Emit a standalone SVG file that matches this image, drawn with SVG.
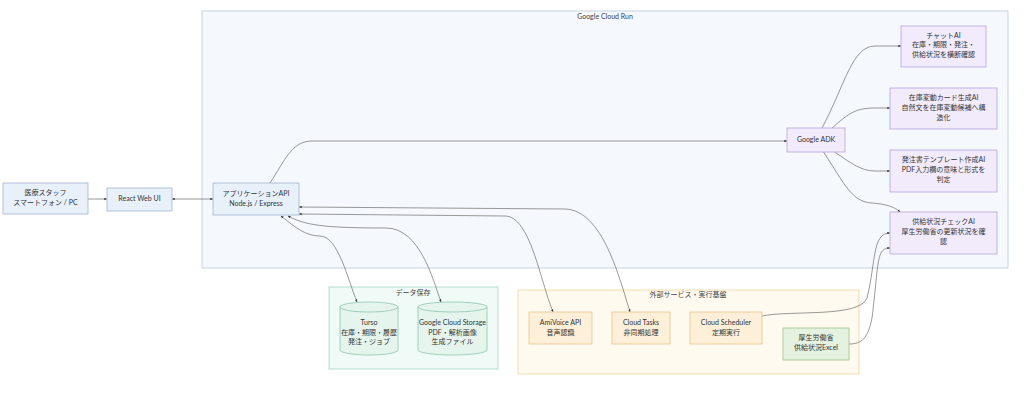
<svg xmlns="http://www.w3.org/2000/svg" width="1024" height="401" viewBox="0 0 1024 401">
<defs>
<style>
text{font-family:"Lato","Noto Sans CJK JP",sans-serif;font-size:7px;fill:#333;text-anchor:middle;dominant-baseline:middle}
.ttl{font-size:7px;fill:#444}
.blue{fill:#e8f0fa;stroke:#9fb4cf;stroke-width:0.8}
.purple{fill:#f1ebfc;stroke:#b7a3df;stroke-width:0.8}
.orange{fill:#fdefd8;stroke:#e8c48a;stroke-width:0.8}
.green{fill:#e5f2df;stroke:#9bc48a;stroke-width:0.8}
.cyl{fill:#e5f5ee;stroke:#8cc5ae;stroke-width:0.8}
.edge{fill:none;stroke:#555;stroke-width:0.6}
</style>
<marker id="ae" viewBox="0 0 10 10" refX="9" refY="5" markerWidth="5" markerHeight="5" orient="auto"><path d="M0,1 L10,5 L0,9 z" fill="#333"/></marker>
<marker id="as" viewBox="0 0 10 10" refX="1" refY="5" markerWidth="5" markerHeight="5" orient="auto"><path d="M10,1 L0,5 L10,9 z" fill="#333"/></marker>
</defs>
<rect width="1024" height="401" fill="#ffffff"/>
<g id="cluster-cloudrun">
<rect x="202" y="11" width="806" height="257" fill="#f5f8fc" stroke="#b9c9d9" stroke-width="0.8"/>
<text class="ttl" x="605" y="17">Google Cloud Run</text>
</g>
<g id="cluster-data">
<rect x="329" y="287" width="169" height="82" fill="#f0faf6" stroke="#a6d8c3" stroke-width="0.8"/>
<text class="ttl" x="413" y="293">データ保存</text>
</g>
<g id="cluster-ext">
<rect x="518" y="290" width="341" height="84" fill="#fffaf0" stroke="#f0d49f" stroke-width="0.8"/>
<text class="ttl" x="688" y="295">外部サービス・実行基盤</text>
</g>
<g id="connectors">
<path class="edge" d="M88,199 L107,199" marker-end="url(#ae)"/>
<path class="edge" d="M172,199 L213,199" marker-start="url(#as)" marker-end="url(#ae)"/>
<path class="edge" d="M270,183 C285,160 292,141 312,141 L787,141" marker-end="url(#ae)"/>
<path class="edge" d="M822,128 C845,85 852,46 875,46 L901,46" marker-end="url(#ae)"/>
<path class="edge" d="M832,128 C850,112 857,108 875,108 L890,108" marker-end="url(#ae)"/>
<path class="edge" d="M833,151 C850,162 860,171 875,171 L890,171" marker-end="url(#ae)"/>
<path class="edge" d="M823,151 C845,185 852,202 872,203 C886,204 895,207 900,212" marker-end="url(#ae)"/>
<path class="edge" d="M281,216 C296,228 306,236 320,236 C338,236 348,280 357,302" marker-start="url(#as)" marker-end="url(#ae)"/>
<path class="edge" d="M288,216 C305,225 322,228 386,228 C420,228 433,280 441,302" marker-start="url(#as)" marker-end="url(#ae)"/>
<path class="edge" d="M299,214 L505,216 C530,216 540,280 553,312" marker-start="url(#as)" marker-end="url(#ae)"/>
<path class="edge" d="M299,207 L565,209 C603,210 620,280 630,312" marker-start="url(#as)" marker-end="url(#ae)"/>
<path class="edge" d="M762,316 C790,310 860,318 867,298 C876,262 872,233 890,233" marker-end="url(#ae)"/>
<path class="edge" d="M849,344 C862,344 868,338 872,318 C879,262 876,248 890,248" marker-end="url(#ae)"/>
</g>
<g id="node-staff">
<rect class="blue" x="3" y="183" width="85" height="31"/>
<text x="45.5" y="193.5">医療スタッフ</text>
<text x="45.5" y="203.5">スマートフォン / PC</text>
</g>
<g id="node-react">
<rect class="blue" x="107" y="188" width="65" height="23"/>
<text x="139.5" y="199.5">React Web UI</text>
</g>
<g id="node-api">
<rect class="blue" x="213" y="183" width="86" height="32"/>
<text x="256" y="194">アプリケーションAPI</text>
<text x="256" y="204">Node.js / Express</text>
</g>
<g id="node-adk">
<rect class="purple" x="787" y="128" width="58" height="24"/>
<text x="816" y="140.5">Google ADK</text>
</g>
<g id="node-chat">
<rect class="purple" x="901" y="26" width="85" height="41"/>
<text x="943.5" y="36">チャットAI</text>
<text x="943.5" y="45.5">在庫・期限・発注・</text>
<text x="943.5" y="55.5">供給状況を横断確認</text>
</g>
<g id="node-card">
<rect class="purple" x="890" y="88" width="107" height="41"/>
<text x="943.5" y="98">在庫変動カード生成AI</text>
<text x="943.5" y="108">自然文を在庫変動候補へ構</text>
<text x="943.5" y="118">造化</text>
</g>
<g id="node-order">
<rect class="purple" x="890" y="150" width="107" height="42"/>
<text x="943.5" y="160">発注書テンプレート作成AI</text>
<text x="943.5" y="170">PDF入力欄の意味と形式を</text>
<text x="943.5" y="180">判定</text>
</g>
<g id="node-supply">
<rect class="purple" x="890" y="212" width="107" height="42"/>
<text x="943.5" y="222">供給状況チェックAI</text>
<text x="943.5" y="232">厚生労働省の更新状況を確</text>
<text x="943.5" y="242">認</text>
</g>
<g id="node-turso">
<path class="cyl" d="M340,307 a29,5 0 0 0 58,0 a29,5 0 0 0 -58,0 l0,43 a29,5 0 0 0 58,0 l0,-43"/>
<text x="369" y="323">Turso</text>
<text x="369" y="333">在庫・期限・履歴</text>
<text x="369" y="342.5">発注・ジョブ</text>
</g>
<g id="node-gcs">
<path class="cyl" d="M418,307 a34.5,5 0 0 0 69,0 a34.5,5 0 0 0 -69,0 l0,43 a34.5,5 0 0 0 69,0 l0,-43"/>
<text x="452.5" y="323">Google Cloud Storage</text>
<text x="452.5" y="333">PDF・解析画像</text>
<text x="452.5" y="342.5">生成ファイル</text>
</g>
<g id="node-amivoice">
<rect class="orange" x="529" y="312" width="63" height="32"/>
<text x="560.5" y="323.5">AmiVoice API</text>
<text x="560.5" y="333.5">音声認識</text>
</g>
<g id="node-tasks">
<rect class="orange" x="612" y="312" width="58" height="32"/>
<text x="641" y="323.5">Cloud Tasks</text>
<text x="641" y="333.5">非同期処理</text>
</g>
<g id="node-scheduler">
<rect class="orange" x="690" y="312" width="72" height="32"/>
<text x="726" y="323.5">Cloud Scheduler</text>
<text x="726" y="333.5">定期実行</text>
</g>
<g id="node-mhlw">
<rect class="green" x="783" y="328" width="66" height="32"/>
<text x="816" y="338">厚生労働省</text>
<text x="816" y="348.5">供給状況Excel</text>
</g>
</svg>
